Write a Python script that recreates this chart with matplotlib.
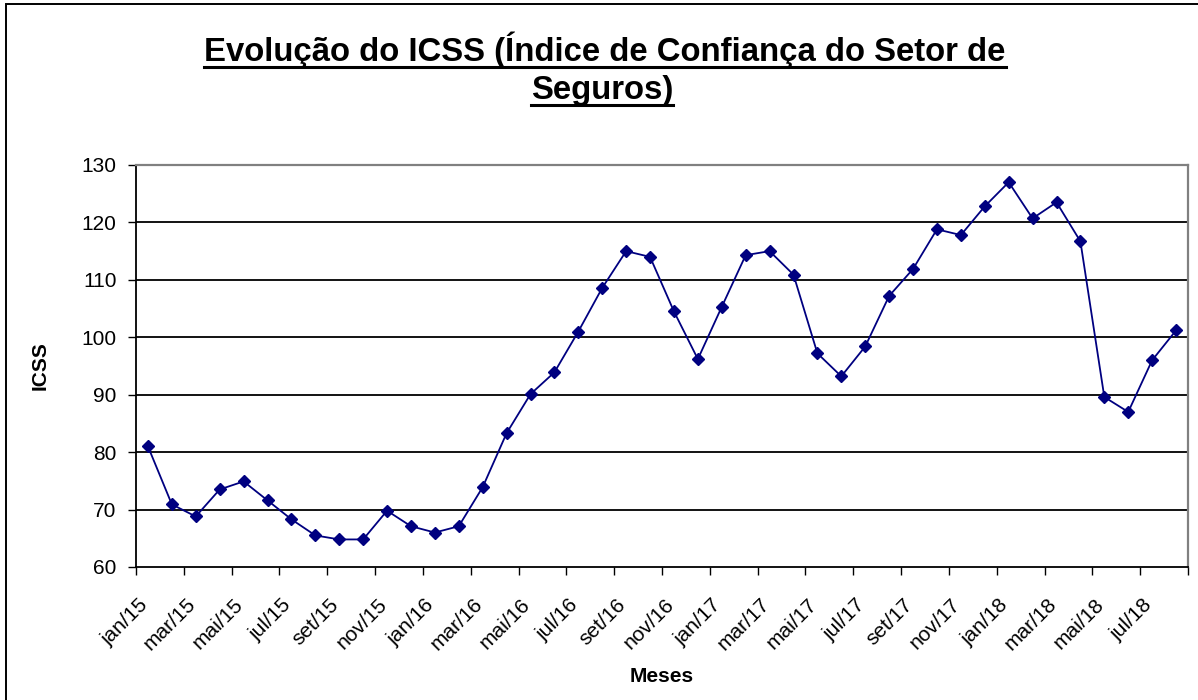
import matplotlib
matplotlib.use("Agg")
import matplotlib.pyplot as plt
import matplotlib.transforms as mtransforms
from matplotlib.patches import Rectangle
from matplotlib.lines import Line2D
import numpy as np

plt.rcParams['font.family'] = ['Liberation Sans', 'DejaVu Sans']

# ---- data ----
months = ["jan/15", "fev/15", "mar/15", "abr/15", "mai/15", "jun/15", "jul/15", "ago/15",
          "set/15", "out/15", "nov/15", "dez/15",
          "jan/16", "fev/16", "mar/16", "abr/16", "mai/16", "jun/16", "jul/16", "ago/16",
          "set/16", "out/16", "nov/16", "dez/16",
          "jan/17", "fev/17", "mar/17", "abr/17", "mai/17", "jun/17", "jul/17", "ago/17",
          "set/17", "out/17", "nov/17", "dez/17",
          "jan/18", "fev/18", "mar/18", "abr/18", "mai/18", "jun/18", "jul/18", "ago/18"]
icss = [81.0, 70.9, 68.8, 73.5, 74.9, 71.6, 68.3, 65.5, 64.8, 64.8, 69.8, 67.1,
        66.0, 67.1, 73.9, 83.3, 90.1, 93.9, 101.0, 108.6, 115.0, 114.0, 104.5, 96.2,
        105.3, 114.3, 115.0, 110.9, 97.2, 93.2, 98.4, 107.2, 111.9, 118.8, 117.8, 122.8,
        127.0, 120.7, 123.5, 116.7, 89.6, 87.0, 96.0, 101.2]
yticks = [60, 70, 80, 90, 100, 110, 120, 130]
title_lines = ["Evolução do ICSS (Índice de Confiança do Setor de", "Seguros)"]
xlabel = "Meses"
ylabel = "ICSS"

W, H = 1198, 700
fig = plt.figure(figsize=(W / 100, H / 100), dpi=100)
fig.patch.set_facecolor('white')

# outer chart border
fig.add_artist(Rectangle((5.5 / W, -0.05), 1.2, (H - 3.5) / H + 0.05, transform=fig.transFigure,
                         fill=False, edgecolor='black', linewidth=1.4))

ax = fig.add_axes([136 / W, (H - 567) / H, (1188 - 136) / W, (567 - 165) / H])

n = len(icss)
x = np.arange(n) + 0.5
ax.plot(x, icss, color='#000080', linewidth=1.3, marker='D', markersize=6,
        markerfacecolor='#000080', markeredgecolor='#000080', zorder=3)

ax.set_xlim(0, n)
ax.set_ylim(60, 130)
ax.set_yticks(yticks)
ax.set_yticklabels([str(v) for v in yticks], fontsize=15)
for v in yticks[1:-1]:
    ax.axhline(v, color='black', linewidth=1.3, zorder=1)

# x ticks: marks at every other category boundary, labels for every other month
ax.set_xticks(np.arange(0, n + 1, 2))
ax.set_xticklabels([])
ax.set_xticks(x[::2], minor=True)
ax.set_xticklabels(months[::2], minor=True, fontsize=15, rotation=45,
                   ha='right', va='top', rotation_mode='anchor')
ax.tick_params(axis='x', which='major', direction='out', length=5.5, width=1, color='black')
ax.tick_params(axis='x', which='minor', length=0, pad=20)
ax.tick_params(axis='y', direction='out', length=5.8, width=1, pad=8.3, color='black')
offset = mtransforms.ScaledTranslation(-10 / 100, 0, fig.dpi_scale_trans)
for lab in ax.get_xticklabels(minor=True):
    lab.set_transform(lab.get_transform() + offset)

for s in ['left', 'bottom']:
    ax.spines[s].set_color('black')
    ax.spines[s].set_linewidth(1.3)
for s in ['top', 'right']:
    ax.spines[s].set_color('#808080')
    ax.spines[s].set_linewidth(1.6)

ax.set_xlabel(xlabel, fontsize=15, fontweight='bold')
ax.xaxis.set_label_coords(0.5, -(676 - 567) / (567 - 165), transform=ax.transAxes)
ax.xaxis.label.set_va('center')
ax.set_ylabel(ylabel, fontsize=15, fontweight='bold')
ax.yaxis.set_label_coords((40 - 136) / (1188 - 136), 0.5, transform=ax.transAxes)
ax.yaxis.label.set_va('center')

# title with underline
baselines = [61, 99]
centers = [605, 602]
texts = []
for line, yb, xc in zip(title_lines, baselines, centers):
    t = fig.text(xc / W, 1 - yb / H, line, ha='center', va='baseline', fontsize=23.7,
                 fontweight='bold', color='black')
    texts.append((t, yb))
fig.canvas.draw()
renderer = fig.canvas.get_renderer()
for t, yb in texts:
    bb = t.get_window_extent(renderer)
    yl = 1 - (yb + 6) / H
    fig.add_artist(Line2D([bb.x0 / W, bb.x1 / W], [yl, yl], transform=fig.transFigure,
                          color='black', linewidth=2.2))

fig.savefig('out.png', dpi=100, facecolor='white')
